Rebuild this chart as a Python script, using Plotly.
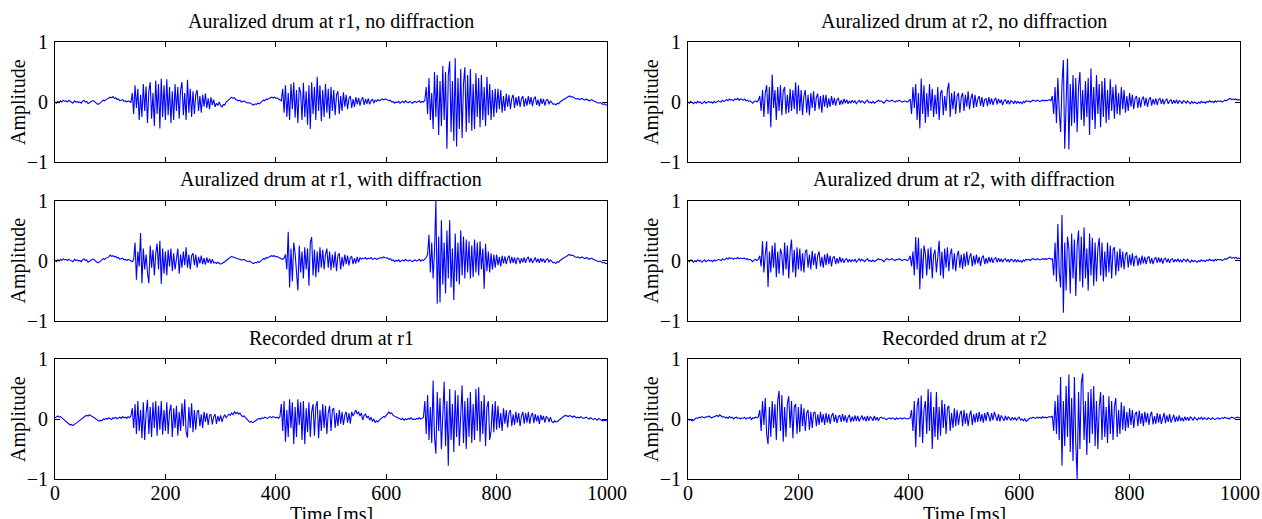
import plotly.graph_objects as go

# ---------------- data (2.5 ms grid) ----------------
time_ms = [i * 2.5 for i in range(401)]

x_tick_vals = [0, 200, 400, 600, 800, 1000]
y_tick_vals = [-1, 0, 1]

titles = [
    "Auralized drum at r1, no diffraction",
    "Auralized drum at r2, no diffraction",
    "Auralized drum at r1, with diffraction",
    "Auralized drum at r2, with diffraction",
    "Recorded drum at r1",
    "Recorded drum at r2",
]

aur_r1_nodiff = [
    0.00, -0.02, 0.01, -0.01, 0.02, 0.00, 0.03, 0.01, 0.02, 0.00, 0.03, 0.01, 0.00, -0.02, 0.02, 0.00, 0.01, -0.01, 0.00, -0.02,
    0.01, 0.03, 0.00, 0.01, -0.03, -0.01, 0.00, 0.02, 0.02, 0.00, -0.02, -0.04, -0.03, 0.00, 0.01, 0.03, 0.02, 0.04, 0.05, 0.06,
    0.08, 0.07, 0.09, 0.06, 0.07, 0.04, 0.05, 0.02, 0.03, 0.04, 0.01, 0.02, 0.00, 0.02, 0.01, -0.01, 0.15, -0.20, 0.28, -0.10,
    0.22, -0.30, 0.12, -0.25, 0.30, -0.15, 0.26, -0.35, 0.18, 0.33, -0.28, 0.15, -0.40, 0.36, -0.20, 0.30, -0.44, 0.39, -0.25, 0.28,
    -0.30, 0.38, -0.22, 0.25, -0.35, 0.18, -0.30, 0.30, -0.15, 0.25, -0.28, 0.20, 0.33, -0.22, 0.15, -0.30, 0.37, -0.18, 0.22, -0.25,
    0.18, -0.20, 0.12, 0.20, -0.15, 0.10, -0.18, 0.12, -0.08, 0.14, -0.10, 0.06, -0.12, 0.08, -0.05, 0.04, -0.08, -0.02, -0.06, 0.00,
    -0.06, -0.08, -0.04, -0.05, 0.00, 0.02, 0.05, 0.07, 0.08, 0.06, 0.07, 0.04, 0.03, 0.02, 0.03, 0.00, 0.01, 0.02, 0.00, -0.01,
    -0.02, -0.01, -0.03, -0.04, -0.05, -0.03, -0.04, -0.02, -0.03, 0.00, 0.01, 0.03, 0.02, 0.05, 0.04, 0.06, 0.07, 0.08, 0.07, 0.08,
    0.06, 0.07, 0.05, 0.04, 0.02, 0.22, -0.18, 0.28, -0.25, 0.15, -0.30, 0.30, -0.12, 0.33, -0.26, 0.20, -0.35, 0.25, 0.15, -0.30,
    0.32, -0.25, 0.18, -0.38, 0.28, -0.45, 0.33, -0.20, 0.25, -0.30, 0.42, -0.15, 0.28, -0.32, 0.20, -0.25, 0.30, -0.18, 0.22, -0.28,
    0.25, -0.15, 0.20, -0.22, 0.12, 0.18, -0.20, 0.10, -0.15, 0.16, -0.08, 0.12, -0.12, 0.06, 0.10, -0.10, 0.05, -0.08, 0.08, -0.04,
    0.07, -0.06, 0.04, 0.08, -0.05, 0.05, -0.03, 0.06, -0.04, 0.02, 0.05, -0.02, 0.03, 0.01, 0.04, 0.02, 0.03, 0.05, 0.04, 0.05,
    0.05, 0.04, 0.02, 0.03, 0.00, 0.01, -0.02, 0.00, -0.01, 0.01, -0.02, 0.00, 0.01, -0.01, 0.02, 0.00, -0.01, 0.01, 0.00, -0.02,
    0.00, 0.01, -0.01, 0.00, 0.02, -0.01, 0.01, 0.00, 0.03, 0.25, -0.20, 0.40, -0.30, 0.15, -0.45, 0.50, -0.25, 0.45, -0.55, 0.35,
    -0.40, 0.60, -0.30, 0.50, -0.78, 0.45, 0.68, -0.50, 0.35, -0.65, 0.73, -0.74, 0.40, -0.45, 0.55, -0.60, 0.30, 0.58, -0.50, 0.45,
    -0.35, 0.55, -0.48, 0.30, -0.45, 0.48, -0.25, 0.40, -0.42, 0.45, -0.30, 0.25, -0.40, 0.42, -0.22, 0.30, -0.30, 0.20, -0.25, 0.22,
    -0.18, 0.22, -0.12, 0.20, -0.18, 0.10, -0.15, 0.14, -0.08, 0.12, -0.12, 0.06, 0.12, -0.10, 0.08, -0.06, 0.10, -0.08, 0.05, 0.10,
    -0.08, 0.06, -0.06, 0.10, -0.04, 0.08, -0.07, 0.05, 0.09, -0.05, 0.04, -0.07, 0.06, -0.03, 0.05, -0.06, 0.03, 0.04, -0.04, 0.02,
    -0.02, -0.04, -0.03, -0.05, -0.02, -0.03, 0.00, 0.02, 0.03, 0.05, 0.06, 0.08, 0.09, 0.10, 0.08, 0.09, 0.07, 0.06, 0.05, 0.06,
    0.04, 0.05, 0.06, 0.04, 0.03, 0.05, 0.04, 0.02, 0.03, 0.04, 0.02, 0.01, 0.00, -0.01, -0.02, -0.01, -0.03, -0.04, -0.03, -0.05,
    -0.05,
]

aur_r1_diff = [
    0.00, -0.02, 0.01, -0.01, 0.02, 0.00, 0.03, 0.01, 0.02, 0.00, 0.02, 0.01, 0.00, -0.02, 0.02, 0.00, 0.01, -0.01, 0.00, -0.02,
    0.01, 0.03, 0.00, 0.01, -0.03, -0.01, 0.00, 0.02, 0.02, 0.00, -0.02, -0.04, -0.03, 0.00, 0.01, 0.03, 0.02, 0.04, 0.05, 0.06,
    0.09, 0.07, 0.08, 0.06, 0.07, 0.04, 0.05, 0.02, 0.03, 0.04, 0.01, 0.02, 0.00, 0.02, 0.01, 0.00, -0.02, 0.01, 0.30, -0.32,
    0.15, -0.10, 0.46, -0.38, 0.20, -0.15, 0.10, -0.20, -0.38, 0.25, -0.12, 0.18, -0.25, 0.12, 0.28, -0.15, 0.33, -0.39, 0.20, -0.22,
    0.15, -0.25, 0.18, -0.10, 0.20, -0.18, 0.12, -0.15, 0.08, 0.20, -0.22, 0.10, -0.12, 0.15, -0.08, 0.22, -0.12, 0.10, -0.15, 0.08,
    0.12, -0.08, 0.10, -0.12, 0.06, -0.05, 0.08, -0.06, 0.04, -0.07, 0.05, -0.04, 0.03, -0.05, 0.02, -0.04, -0.03, -0.05, -0.03, -0.04,
    -0.06, -0.05, -0.04, -0.02, 0.00, 0.02, 0.04, 0.06, 0.07, 0.06, 0.05, 0.04, 0.03, 0.02, 0.02, 0.01, 0.01, 0.02, 0.00, -0.01,
    -0.02, -0.01, -0.03, -0.04, -0.05, -0.03, -0.04, -0.02, -0.03, 0.00, 0.01, 0.03, 0.02, 0.05, 0.04, 0.06, 0.07, 0.08, 0.07, 0.08,
    0.06, 0.07, 0.05, 0.04, 0.03, 0.02, 0.04, 0.10, -0.15, 0.48, -0.45, 0.20, -0.35, 0.30, 0.12, -0.30, -0.50, 0.25, -0.20, 0.15,
    -0.30, 0.22, -0.15, 0.20, -0.42, 0.30, 0.39, -0.25, 0.18, -0.28, 0.15, -0.20, 0.22, -0.12, 0.18, -0.15, 0.10, 0.20, -0.12, 0.15,
    -0.16, 0.10, -0.12, 0.15, -0.18, 0.08, 0.12, -0.15, 0.06, -0.10, 0.10, -0.06, 0.08, -0.08, 0.05, 0.07, -0.06, 0.04, -0.05, 0.06,
    -0.03, 0.05, 0.02, 0.04, 0.03, 0.05, 0.02, 0.04, 0.03, 0.05, 0.02, 0.03, 0.04, 0.02, 0.03, 0.04, 0.05, 0.04, 0.06, 0.05,
    0.05, 0.04, 0.02, 0.03, 0.00, 0.01, -0.02, 0.00, -0.01, 0.01, -0.02, 0.00, 0.01, -0.01, 0.02, 0.00, -0.01, 0.01, 0.00, -0.02,
    0.00, 0.01, -0.01, 0.00, 0.02, -0.01, 0.01, 0.00, 0.02, 0.05, 0.10, 0.43, -0.20, 0.30, -0.30, 0.15, 1.00, -0.72, 0.40, -0.70,
    0.67, -0.40, 0.30, -0.55, 0.50, -0.30, 0.67, -0.45, 0.20, -0.66, 0.45, -0.35, 0.30, -0.40, 0.50, -0.25, 0.40, -0.30, 0.35, -0.20,
    0.32, -0.30, 0.25, -0.28, 0.35, -0.20, 0.30, -0.25, 0.32, -0.15, 0.20, -0.47, 0.28, -0.18, 0.15, -0.20, 0.12, -0.15, 0.10, -0.12,
    0.10, -0.08, 0.06, -0.10, 0.08, -0.05, 0.07, -0.06, 0.04, 0.08, -0.05, 0.06, -0.04, 0.05, -0.06, 0.04, 0.03, -0.05, 0.04, -0.03,
    0.05, -0.04, 0.03, 0.06, -0.03, 0.04, -0.04, 0.02, 0.05, -0.03, 0.03, -0.04, 0.04, -0.02, 0.03, -0.04, 0.02, 0.03, -0.03, 0.01,
    -0.02, -0.04, -0.03, -0.05, -0.02, -0.03, 0.00, 0.02, 0.03, 0.05, 0.06, 0.08, 0.09, 0.10, 0.08, 0.09, 0.07, 0.06, 0.05, 0.06,
    0.04, 0.05, 0.06, 0.04, 0.03, 0.05, 0.04, 0.02, 0.03, 0.04, 0.02, 0.01, 0.00, -0.01, -0.02, -0.01, -0.03, -0.04, -0.03, -0.05,
    -0.05,
]

rec_r1 = [
    0.02, 0.04, 0.05, 0.03, 0.04, 0.02, 0.00, -0.02, -0.05, -0.07, -0.08, -0.10, -0.09, -0.11, -0.09, -0.08, -0.06, -0.04, -0.02, 0.00,
    0.02, 0.04, 0.05, 0.06, 0.05, 0.07, 0.05, 0.04, 0.03, 0.01, -0.01, -0.03, -0.04, -0.02, -0.03, 0.00, -0.01, 0.01, 0.00, 0.02,
    0.00, -0.01, 0.02, 0.01, 0.03, 0.00, 0.02, 0.03, 0.01, 0.04, 0.02, 0.03, 0.01, 0.04, 0.02, 0.05, 0.18, -0.15, 0.25, -0.25,
    0.30, -0.20, 0.15, -0.32, 0.28, -0.35, 0.10, 0.32, -0.25, 0.20, -0.30, 0.28, -0.15, 0.30, -0.28, 0.22, -0.18, 0.30, -0.26, 0.15,
    -0.20, 0.28, -0.25, 0.12, 0.24, -0.30, 0.18, -0.15, 0.22, -0.28, 0.12, -0.20, 0.26, -0.12, 0.33, -0.22, -0.31, 0.20, -0.15, 0.26,
    -0.22, 0.15, -0.18, 0.12, 0.15, -0.12, 0.08, -0.15, 0.12, -0.05, 0.10, -0.10, 0.06, 0.08, -0.09, 0.04, 0.08, -0.08, 0.05, -0.04,
    0.06, -0.05, 0.03, 0.07, 0.02, 0.05, 0.08, 0.06, 0.10, 0.07, 0.12, 0.09, 0.11, 0.08, 0.10, 0.06, 0.04, 0.05, 0.02, 0.00,
    -0.03, -0.05, -0.04, -0.06, -0.05, -0.03, -0.02, 0.00, 0.01, 0.00, 0.02, 0.01, 0.03, 0.02, 0.01, 0.03, 0.04, 0.02, 0.04, 0.03,
    0.02, 0.03, 0.01, 0.04, 0.25, -0.20, 0.30, -0.38, 0.15, -0.30, 0.33, -0.15, 0.28, -0.42, 0.20, -0.30, 0.33, -0.10, 0.28, -0.35,
    0.30, -0.42, 0.18, -0.22, 0.28, -0.30, 0.12, 0.25, -0.28, 0.20, 0.30, -0.32, 0.15, -0.20, 0.25, -0.15, 0.22, -0.25, 0.10, 0.22,
    -0.20, 0.15, 0.18, -0.15, 0.10, -0.12, 0.15, -0.08, 0.12, -0.10, 0.06, 0.12, -0.06, 0.10, -0.08, 0.12, 0.05, 0.10, 0.15, 0.08,
    0.12, 0.05, 0.10, -0.02, 0.06, 0.08, 0.02, 0.05, -0.02, 0.03, -0.04, 0.00, -0.06, -0.03, -0.05, -0.02, 0.00, 0.02, 0.04, 0.03,
    0.06, 0.08, 0.12, 0.09, 0.10, 0.06, 0.05, 0.03, 0.02, 0.01, 0.00, -0.01, 0.01, -0.02, 0.00, -0.01, 0.01, 0.00, 0.02, -0.01,
    0.00, -0.01, 0.01, 0.00, 0.02, 0.00, 0.01, 0.03, 0.30, -0.25, 0.40, -0.35, 0.20, -0.40, 0.64, -0.30, -0.58, 0.45, -0.20, 0.35,
    -0.50, 0.20, 0.62, -0.45, 0.30, -0.78, 0.50, -0.35, 0.25, -0.55, 0.48, -0.30, 0.40, -0.45, 0.20, 0.56, -0.40, 0.30, -0.50, 0.35,
    -0.30, 0.45, -0.40, 0.25, -0.35, 0.50, -0.20, 0.53, -0.38, 0.30, -0.25, 0.40, -0.45, 0.20, 0.30, -0.35, -0.20, 0.25, -0.22, 0.30,
    -0.18, 0.22, -0.15, 0.10, -0.20, 0.18, -0.08, 0.15, -0.14, 0.10, 0.15, -0.12, 0.08, -0.10, 0.12, -0.06, 0.10, -0.12, 0.05, 0.12,
    -0.08, 0.10, -0.06, 0.12, -0.08, 0.05, 0.10, -0.07, 0.08, -0.04, 0.06, -0.08, 0.07, -0.02, 0.05, -0.06, 0.04, 0.02, -0.05, 0.03,
    -0.04, -0.06, -0.03, -0.05, -0.04, -0.02, 0.00, 0.02, 0.04, 0.05, 0.06, 0.05, 0.04, 0.06, 0.05, 0.03, 0.05, 0.04, 0.02, 0.03,
    0.02, 0.04, 0.03, 0.01, 0.02, 0.03, 0.01, 0.00, 0.02, 0.01, -0.01, 0.01, 0.00, -0.02, 0.01, -0.01, -0.02, -0.03, -0.02, -0.03,
    -0.03,
]

aur_r2_nodiff = [
    0.00, -0.02, 0.01, -0.01, -0.03, 0.00, -0.02, 0.01, -0.01, 0.00, -0.03, -0.01, 0.01, -0.02, 0.00, 0.01, -0.01, 0.00, -0.02, 0.01,
    -0.01, 0.00, 0.02, 0.01, 0.00, 0.03, 0.01, 0.02, 0.04, 0.02, 0.05, 0.03, 0.04, 0.02, 0.05, 0.04, 0.06, 0.03, 0.05, 0.04,
    0.03, 0.05, 0.02, 0.03, 0.01, 0.02, 0.00, -0.02, 0.01, 0.02, 0.00, 0.03, 0.10, -0.15, 0.20, -0.25, 0.15, 0.28, -0.20, 0.25,
    -0.42, 0.46, -0.10, 0.20, -0.30, 0.25, -0.15, 0.28, -0.22, 0.18, 0.25, -0.20, 0.12, -0.18, 0.22, -0.15, 0.20, -0.12, 0.33, -0.20,
    0.28, -0.15, 0.20, -0.22, 0.10, 0.20, -0.18, 0.12, -0.22, 0.15, -0.10, 0.18, -0.15, 0.08, 0.14, -0.12, 0.10, -0.18, 0.12, -0.08,
    0.12, -0.10, 0.06, -0.08, 0.10, -0.05, 0.07, -0.06, 0.04, 0.06, -0.05, 0.03, -0.04, 0.05, -0.02, 0.04, -0.03, 0.02, -0.02, 0.03,
    -0.01, 0.02, -0.03, 0.01, 0.03, -0.01, 0.02, 0.00, -0.02, 0.01, 0.03, -0.01, 0.00, -0.02, 0.01, -0.02, 0.00, 0.02, 0.03, 0.01,
    0.02, 0.00, -0.02, 0.01, 0.03, 0.02, 0.01, 0.02, 0.03, 0.01, 0.00, 0.02, 0.01, 0.03, 0.02, 0.00, 0.01, 0.02, 0.01, 0.00,
    0.02, 0.05, -0.20, 0.25, -0.10, 0.30, -0.30, 0.15, -0.44, 0.39, -0.20, 0.28, -0.35, 0.15, -0.25, 0.30, -0.15, 0.22, -0.25, 0.12,
    -0.20, 0.25, -0.30, 0.15, 0.20, -0.22, 0.10, -0.15, 0.20, 0.32, -0.25, 0.15, -0.12, 0.18, -0.20, 0.10, 0.15, -0.18, 0.08, 0.15,
    -0.15, 0.12, -0.08, 0.18, -0.12, 0.06, 0.14, -0.10, 0.12, -0.08, 0.05, 0.10, -0.06, 0.08, -0.08, 0.04, 0.06, -0.07, 0.08, -0.04,
    0.06, -0.05, 0.03, 0.07, -0.04, 0.05, -0.02, 0.04, -0.05, 0.02, 0.04, -0.03, 0.03, -0.04, 0.02, 0.01, -0.03, 0.02, -0.02, 0.01,
    -0.02, 0.00, -0.03, 0.01, -0.01, 0.02, 0.01, 0.02, 0.00, 0.02, 0.03, 0.02, 0.01, 0.03, 0.02, 0.01, 0.02, 0.03, 0.02, 0.03,
    0.02, 0.03, 0.04, 0.02, 0.10, -0.20, 0.25, -0.35, 0.40, -0.15, -0.50, 0.30, 0.70, -0.78, 0.20, 0.72, -0.79, 0.30, -0.40, 0.45,
    -0.35, 0.40, -0.50, 0.25, 0.50, -0.30, 0.20, -0.40, 0.35, -0.25, 0.40, -0.55, 0.56, -0.30, 0.25, -0.45, 0.45, -0.20, 0.30, -0.42,
    0.35, -0.25, 0.40, -0.35, 0.20, -0.30, 0.38, -0.15, 0.25, -0.28, 0.29, -0.20, 0.15, -0.22, 0.25, -0.12, 0.20, -0.18, 0.10, -0.15,
    0.15, -0.08, 0.12, -0.12, 0.06, 0.10, -0.10, 0.08, -0.09, 0.05, 0.09, -0.06, 0.07, -0.08, 0.04, 0.08, -0.06, 0.05, -0.04, 0.06,
    -0.05, 0.04, 0.06, -0.03, 0.05, -0.04, 0.03, 0.05, -0.03, 0.02, 0.04, -0.03, 0.03, -0.02, 0.04, -0.03, 0.02, 0.01, -0.03, 0.02,
    0.01, -0.02, 0.02, -0.01, -0.03, 0.01, -0.02, 0.00, -0.01, -0.03, 0.00, -0.02, 0.01, -0.01, 0.00, -0.02, 0.01, 0.00, 0.02, 0.00,
    0.01, -0.01, 0.02, 0.00, 0.02, 0.01, 0.02, 0.00, 0.01, 0.03, 0.02, 0.04, 0.05, 0.06, 0.04, 0.05, 0.04, 0.05, 0.03, 0.04,
    0.03,
]

aur_r2_diff = [
    0.00, -0.02, 0.01, -0.01, -0.03, 0.00, -0.02, 0.01, -0.01, 0.00, -0.03, -0.01, 0.01, -0.02, 0.00, 0.01, -0.01, 0.00, -0.02, 0.01,
    -0.01, 0.00, 0.02, 0.01, 0.00, 0.03, 0.01, 0.02, 0.04, 0.02, 0.05, 0.03, 0.04, 0.02, 0.04, 0.03, 0.05, 0.03, 0.04, 0.03,
    0.03, 0.04, 0.02, 0.03, 0.01, 0.02, 0.00, -0.02, 0.01, 0.02, 0.00, 0.02, 0.08, -0.10, 0.32, -0.20, 0.10, 0.32, -0.44, 0.15,
    -0.20, 0.25, -0.12, 0.30, -0.28, 0.15, -0.22, 0.20, 0.10, -0.25, 0.30, -0.15, 0.25, -0.30, 0.15, 0.35, -0.20, 0.18, -0.28, 0.22,
    -0.15, 0.20, -0.18, 0.12, -0.20, 0.15, 0.18, -0.12, 0.10, -0.15, 0.16, -0.08, 0.12, -0.14, 0.08, 0.15, -0.10, 0.06, -0.12, 0.10,
    -0.08, 0.12, -0.06, 0.08, -0.10, 0.05, 0.07, -0.06, 0.04, -0.05, 0.06, -0.03, 0.04, -0.04, 0.02, 0.03, -0.03, 0.02, -0.02, 0.01,
    -0.01, 0.02, -0.03, 0.01, 0.03, -0.01, 0.02, 0.00, -0.02, 0.01, 0.03, -0.01, 0.00, -0.02, 0.01, -0.02, 0.00, 0.02, 0.03, 0.01,
    0.02, 0.00, -0.02, 0.01, 0.03, 0.02, 0.01, 0.02, 0.03, 0.01, 0.00, 0.02, 0.01, 0.03, 0.02, 0.00, 0.01, 0.02, 0.01, 0.00,
    0.02, 0.08, -0.10, 0.15, -0.25, 0.39, -0.15, 0.38, -0.48, 0.20, -0.30, 0.25, 0.12, -0.25, 0.20, -0.15, 0.22, -0.30, 0.10, 0.18,
    -0.20, 0.12, 0.33, -0.25, 0.15, -0.30, 0.20, -0.12, 0.22, -0.18, 0.10, 0.20, -0.15, 0.12, -0.18, 0.08, 0.16, -0.12, 0.10, -0.14,
    0.12, -0.10, 0.15, -0.08, 0.06, 0.12, -0.10, 0.08, -0.07, 0.10, -0.05, 0.06, -0.09, 0.05, 0.08, -0.06, 0.04, -0.05, 0.06, -0.03,
    0.05, -0.04, 0.03, 0.05, -0.03, 0.04, -0.02, 0.03, -0.03, 0.02, 0.03, -0.02, 0.02, -0.03, 0.02, 0.01, -0.02, 0.02, -0.02, 0.01,
    -0.02, 0.00, -0.03, 0.01, -0.01, 0.02, 0.01, 0.02, 0.00, 0.02, 0.03, 0.02, 0.01, 0.03, 0.02, 0.01, 0.02, 0.03, 0.02, 0.03,
    0.02, 0.03, 0.04, 0.02, 0.03, -0.25, 0.30, -0.35, 0.61, -0.20, -0.45, 0.76, -0.87, 0.30, -0.50, 0.40, 0.20, -0.55, 0.45, -0.30,
    0.35, -0.59, 0.25, 0.50, -0.35, 0.40, -0.45, 0.55, -0.30, 0.20, -0.50, 0.45, -0.25, 0.38, -0.42, 0.30, -0.35, 0.20, 0.38, -0.25,
    0.30, -0.35, 0.15, -0.28, 0.30, -0.20, 0.25, -0.30, 0.18, 0.22, -0.25, 0.15, -0.18, 0.20, -0.12, 0.15, -0.15, 0.10, 0.14, -0.12,
    0.10, -0.08, 0.12, -0.10, 0.06, 0.08, -0.09, 0.05, -0.07, 0.08, -0.05, 0.06, -0.06, 0.04, 0.07, -0.05, 0.04, -0.06, 0.03, 0.05,
    -0.04, 0.05, -0.03, 0.04, -0.05, 0.02, 0.04, -0.03, 0.03, -0.04, 0.02, 0.03, -0.03, 0.02, -0.02, 0.03, -0.02, 0.01, -0.03, 0.02,
    0.01, -0.02, 0.02, -0.01, -0.03, 0.01, -0.02, 0.00, -0.01, -0.03, 0.00, -0.02, 0.01, -0.01, 0.00, -0.02, 0.01, 0.00, 0.02, 0.00,
    0.01, -0.01, 0.02, 0.00, 0.02, 0.01, 0.02, 0.00, 0.01, 0.03, 0.02, 0.04, 0.05, 0.06, 0.04, 0.05, 0.04, 0.05, 0.03, 0.04,
    0.03,
]

rec_r2 = [
    0.00, -0.02, -0.01, -0.03, -0.02, 0.00, 0.02, 0.01, 0.03, 0.02, 0.04, 0.03, 0.02, 0.04, 0.03, 0.05, 0.04, 0.02, 0.03, 0.04,
    0.05, 0.06, 0.04, 0.07, 0.05, 0.03, 0.04, 0.02, 0.03, 0.01, 0.04, 0.02, 0.03, 0.00, 0.02, 0.03, 0.01, 0.02, 0.00, 0.02,
    0.01, 0.03, 0.00, 0.02, 0.01, 0.03, -0.01, 0.02, 0.01, 0.03, 0.02, 0.04, 0.15, -0.20, 0.30, -0.10, 0.35, -0.25, -0.42, 0.20,
    -0.30, 0.30, -0.15, 0.25, -0.35, 0.30, 0.47, -0.20, 0.40, -0.38, 0.20, -0.30, 0.25, 0.38, -0.15, 0.30, -0.32, 0.20, 0.25, -0.25,
    0.20, -0.22, 0.25, -0.12, 0.18, -0.20, 0.10, 0.15, -0.18, 0.12, -0.15, 0.10, 0.12, -0.12, 0.08, -0.10, 0.12, -0.06, 0.08, -0.10,
    0.10, -0.06, 0.08, -0.08, 0.05, 0.10, -0.05, 0.07, -0.07, 0.04, 0.06, -0.05, 0.08, -0.04, 0.06, -0.06, 0.03, 0.07, -0.05, 0.04,
    -0.04, 0.06, -0.03, 0.05, -0.04, 0.03, 0.06, -0.02, 0.04, -0.04, 0.05, -0.03, 0.04, 0.02, -0.03, 0.05, -0.02, 0.03, -0.03, 0.02,
    0.03, 0.01, 0.02, 0.00, -0.01, 0.01, 0.02, 0.00, 0.02, 0.01, -0.01, 0.02, 0.00, 0.01, 0.02, 0.00, 0.01, 0.02, 0.01, 0.00,
    0.01, 0.02, 0.15, -0.20, 0.30, -0.47, 0.20, 0.35, -0.30, 0.39, -0.40, 0.15, 0.30, -0.25, 0.50, -0.20, 0.45, -0.50, 0.20, -0.30,
    0.45, -0.35, 0.20, -0.28, 0.32, -0.15, 0.25, -0.25, 0.18, 0.22, -0.20, 0.10, -0.15, 0.18, -0.12, 0.15, -0.10, 0.08, 0.14, -0.12,
    0.15, -0.08, 0.10, -0.12, 0.06, 0.14, -0.10, 0.08, -0.06, 0.10, -0.05, 0.12, -0.04, 0.08, -0.06, 0.10, -0.03, 0.12, 0.05, -0.04,
    0.10, -0.02, 0.12, 0.04, -0.03, 0.08, -0.04, 0.06, 0.02, -0.03, 0.05, -0.02, 0.04, 0.00, -0.02, 0.03, -0.01, 0.02, -0.02, 0.01,
    0.03, -0.02, 0.00, -0.03, 0.01, -0.04, -0.01, 0.00, 0.02, 0.01, 0.03, 0.02, 0.01, 0.03, 0.02, 0.03, 0.01, 0.04, 0.02, 0.03,
    0.02, 0.03, 0.04, 0.03, 0.05, -0.20, 0.30, -0.25, 0.40, -0.35, 0.70, -0.78, 0.30, -0.45, 0.55, -0.30, 0.74, -0.55, 0.35, -0.70,
    0.70, -0.40, -1.00, 0.45, -0.50, 0.60, 0.76, -0.35, 0.30, -0.60, 0.45, -0.40, 0.50, -0.25, 0.55, -0.45, 0.30, -0.50, 0.20, 0.45,
    -0.35, 0.40, -0.30, 0.20, -0.40, 0.38, -0.25, 0.30, -0.35, 0.20, 0.35, -0.30, 0.15, -0.25, 0.28, -0.18, 0.22, -0.20, 0.12, -0.15,
    0.18, -0.10, 0.15, -0.15, 0.08, 0.12, -0.12, 0.14, -0.08, 0.10, -0.12, 0.12, -0.06, 0.10, -0.10, 0.06, 0.12, -0.09, 0.05, -0.08,
    0.10, -0.06, 0.08, -0.08, 0.04, 0.10, -0.07, 0.06, -0.05, 0.08, -0.06, 0.03, 0.07, -0.05, 0.04, -0.04, 0.06, -0.03, 0.02, -0.04,
    0.04, -0.02, 0.03, -0.03, 0.04, 0.01, -0.02, 0.03, 0.00, -0.02, 0.02, 0.00, 0.03, -0.01, 0.02, 0.00, -0.01, 0.02, 0.01, -0.01,
    0.02, 0.00, -0.01, 0.01, 0.02, 0.00, 0.01, 0.02, 0.01, 0.03, 0.01, 0.02, 0.00, 0.02, 0.03, 0.02, 0.01, 0.02, 0.03, 0.02,
    0.02,
]

series = [aur_r1_nodiff, aur_r2_nodiff, aur_r1_diff, aur_r2_diff, rec_r1, rec_r2]
for s in series:
    assert len(s) == len(time_ms), len(s)

# ---------------- layout ----------------
W, H = 1262, 519
FONT = "Liberation Serif"
FS = 20
col_px = [(55, 607), (688, 1240)]
row_px = [(42, 162), (200.5, 320.5), (359, 479)]


def fx(px):
    return px / W


def fy(py):
    return 1 - py / H


fig = go.Figure()
layout = dict(
    width=W, height=H,
    margin=dict(l=0, r=0, t=0, b=0),
    paper_bgcolor="white", plot_bgcolor="white",
    template="none",
    showlegend=False,
    font=dict(family=FONT, size=FS, color="black"),
)
annotations = []

for i, (title, ys) in enumerate(zip(titles, series)):
    r, c = divmod(i, 2)
    k = i + 1
    sfx = "" if k == 1 else str(k)
    x0, x1 = col_px[c]
    y0, y1 = row_px[r]
    fig.add_trace(go.Scatter(
        x=time_ms, y=ys, mode="lines",
        line=dict(color="#0000ff", width=1.1),
        xaxis="x" + sfx, yaxis="y" + sfx, hoverinfo="skip",
    ))
    layout["xaxis" + sfx] = dict(
        domain=[fx(x0), fx(x1)], range=[0, 1000], anchor="y" + sfx,
        tickvals=x_tick_vals, ticks="inside", ticklen=5, tickcolor="black",
        showline=True, linecolor="black", linewidth=1, mirror="ticks",
        showgrid=False, zeroline=False, showticklabels=(r == 2),
        ticklabelstandoff=-4,
        tickfont=dict(family=FONT, size=FS, color="black"),
    )
    layout["yaxis" + sfx] = dict(
        domain=[fy(y1), fy(y0)], range=[-1, 1], anchor="x" + sfx,
        tickvals=y_tick_vals, ticks="inside", ticklen=5, tickcolor="black",
        showline=True, linecolor="black", linewidth=1, mirror="ticks",
        showgrid=False, zeroline=False, ticklabelstandoff=2,
        tickfont=dict(family=FONT, size=FS, color="black"),
    )
    annotations.append(dict(
        text=title, x=fx((x0 + x1) / 2), y=fy(y0 - 21), xref="paper", yref="paper",
        xanchor="center", yanchor="middle", showarrow=False,
        font=dict(family=FONT, size=FS, color="black"),
    ))
    annotations.append(dict(
        text="Amplitude", x=fx(x0 - 37), y=fy((y0 + y1) / 2), xref="paper", yref="paper",
        xanchor="center", yanchor="middle", showarrow=False, textangle=-90,
        font=dict(family=FONT, size=FS, color="black"),
    ))
    if r == 2:
        annotations.append(dict(
            text="Time [ms]", x=fx((x0 + x1) / 2), y=fy(514), xref="paper", yref="paper",
            xanchor="center", yanchor="middle", showarrow=False,
            font=dict(family=FONT, size=FS, color="black"),
        ))

layout["annotations"] = annotations
fig.update_layout(**layout)
fig.write_html(
    "out.html",
    config={"displayModeBar": False},
    post_script="document.body.style.margin='0';document.body.style.overflow='hidden';",
)
